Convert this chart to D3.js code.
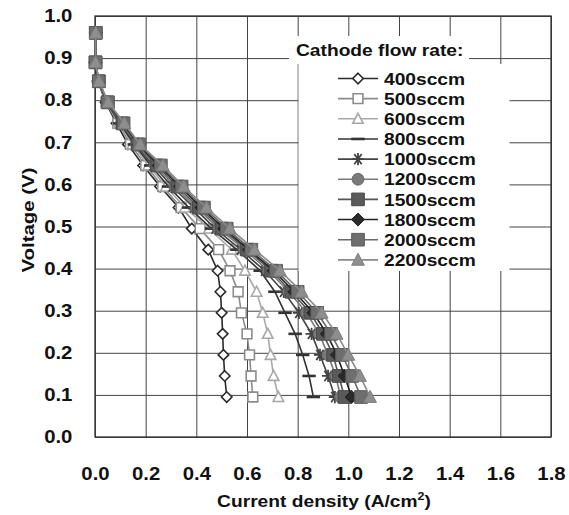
<!DOCTYPE html>
<html>
<head>
<meta charset="utf-8">
<script src="https://cdn.jsdelivr.net/npm/d3@7"></script>
<style>
  html, body { margin: 0; padding: 0; background: #fff; }
  svg { display: block; }
  text { font-family: "Liberation Sans", Arial, sans-serif; font-weight: bold; fill: #111; }
</style>
</head>
<body>
<svg id="chart" width="569" height="515"></svg>
<script>
// Cell voltage levels (V) shared by every flow-rate run
const voltage = [0.96, 0.89, 0.845, 0.795, 0.745, 0.695, 0.645, 0.595, 0.545, 0.495, 0.445, 0.395, 0.345, 0.295, 0.245, 0.195, 0.145, 0.095];

// Current density (A/cm2) at each voltage level, one array per cathode flow rate
const i400  = [0.003, 0.002, 0.012, 0.042, 0.085, 0.130, 0.190, 0.257, 0.330, 0.382, 0.447, 0.484, 0.495, 0.500, 0.504, 0.507, 0.512, 0.520];
const i500  = [0.003, 0.002, 0.012, 0.044, 0.090, 0.140, 0.200, 0.267, 0.340, 0.415, 0.488, 0.533, 0.565, 0.578, 0.600, 0.610, 0.616, 0.623];
const i600  = [0.003, 0.002, 0.013, 0.046, 0.095, 0.148, 0.210, 0.280, 0.355, 0.450, 0.540, 0.592, 0.638, 0.662, 0.682, 0.693, 0.705, 0.724];
const i800  = [0.003, 0.002, 0.013, 0.047, 0.098, 0.155, 0.220, 0.290, 0.370, 0.460, 0.560, 0.652, 0.710, 0.750, 0.790, 0.820, 0.845, 0.862];
const i1000 = [0.003, 0.002, 0.014, 0.048, 0.102, 0.160, 0.230, 0.305, 0.390, 0.475, 0.575, 0.670, 0.745, 0.805, 0.855, 0.888, 0.920, 0.947];
const i1200 = [0.003, 0.002, 0.014, 0.049, 0.105, 0.165, 0.238, 0.315, 0.400, 0.490, 0.590, 0.685, 0.765, 0.835, 0.885, 0.920, 0.950, 0.970];
const i1500 = [0.003, 0.002, 0.015, 0.050, 0.108, 0.168, 0.245, 0.325, 0.410, 0.500, 0.600, 0.695, 0.775, 0.850, 0.900, 0.940, 0.962, 0.985];
const i1800 = [0.003, 0.002, 0.015, 0.050, 0.110, 0.172, 0.252, 0.335, 0.420, 0.510, 0.607, 0.705, 0.787, 0.862, 0.915, 0.955, 0.985, 1.013];
const i2000 = [0.003, 0.002, 0.015, 0.051, 0.113, 0.175, 0.260, 0.342, 0.430, 0.520, 0.617, 0.715, 0.800, 0.877, 0.932, 0.975, 1.015, 1.050];
const i2200 = [0.003, 0.002, 0.016, 0.052, 0.116, 0.178, 0.268, 0.350, 0.440, 0.533, 0.630, 0.730, 0.816, 0.895, 0.954, 1.000, 1.046, 1.086];

const seriesLabels = ["400sccm", "500sccm", "600sccm", "800sccm", "1000sccm", "1200sccm", "1500sccm", "1800sccm", "2000sccm", "2200sccm"];
const seriesCurrents = [i400, i500, i600, i800, i1000, i1200, i1500, i1800, i2000, i2200];

const xTicks = [0, 0.2, 0.4, 0.6, 0.8, 1.0, 1.2, 1.4, 1.6, 1.8];
const yTicks = [0, 0.1, 0.2, 0.3, 0.4, 0.5, 0.6, 0.7, 0.8, 0.9, 1.0];

const legendTitle = "Cathode flow rate:";
const xTitle = "Current density (A/cm";
const yTitle = "Voltage (V)";

// ---- marker shapes ----
const shapes = {
  diamond: { draw(c, s) { const r = Math.sqrt(s) / 2; c.moveTo(0, -r); c.lineTo(r, 0); c.lineTo(0, r); c.lineTo(-r, 0); c.closePath(); } },
  square:  { draw(c, s) { const r = Math.sqrt(s) / 2; c.rect(-r, -r, 2 * r, 2 * r); } },
  triangle:{ draw(c, s) { const r = Math.sqrt(s) / 2; c.moveTo(0, -r * 1.05); c.lineTo(r, r * 0.85); c.lineTo(-r, r * 0.85); c.closePath(); } },
  bar:     { draw(c, s) { const r = Math.sqrt(s) / 2; c.moveTo(-r, 0); c.lineTo(r, 0); } },
  star:    { draw(c, s) { const r = Math.sqrt(s) / 2;
             c.moveTo(-r, 0); c.lineTo(r, 0);
             c.moveTo(-r * 0.6, -r * 0.85); c.lineTo(r * 0.6, r * 0.85);
             c.moveTo(r * 0.6, -r * 0.85); c.lineTo(-r * 0.6, r * 0.85);
             c.moveTo(0, -r); c.lineTo(0, r); } },
  circle:  { draw(c, s) { const r = Math.sqrt(s) / 2; c.moveTo(r, 0); c.arc(0, 0, r, 0, 2 * Math.PI); } }
};

// per-series appearance
const looks = [
  { shape: "diamond",  size: 110, line: "#2a2a2a", fill: "#fff",    stroke: "#2a2a2a", sw: 1.6 },
  { shape: "square",   size: 95,  line: "#8c8c8c", fill: "#fff",    stroke: "#8c8c8c", sw: 1.6 },
  { shape: "triangle", size: 110, line: "#a8a8a8", fill: "#fff",    stroke: "#a8a8a8", sw: 1.6 },
  { shape: "bar",      size: 180, line: "#333",    fill: "none",    stroke: "#333",    sw: 2.6 },
  { shape: "star",     size: 150, line: "#444",    fill: "none",    stroke: "#444",    sw: 1.8 },
  { shape: "circle",   size: 140, line: "#7a7a7a", fill: "#7a7a7a", stroke: "#6a6a6a", sw: 1 },
  { shape: "square",   size: 160, line: "#555",    fill: "#5a5a5a", stroke: "#4a4a4a", sw: 1 },
  { shape: "diamond",  size: 170, line: "#222",    fill: "#2a2a2a", stroke: "#222",    sw: 1 },
  { shape: "square",   size: 160, line: "#686868", fill: "#6e6e6e", stroke: "#5a5a5a", sw: 1 },
  { shape: "triangle", size: 160, line: "#8a8a8a", fill: "#8e8e8e", stroke: "#7e7e7e", sw: 1 }
];

const svg = d3.select("#chart");
const plotLeft = 95, plotRight = 551, plotTop = 16, plotBottom = 437;
const x = d3.scaleLinear().domain([0, 1.8]).range([plotLeft, plotRight]);
const y = d3.scaleLinear().domain([0, 1.0]).range([plotBottom, plotTop]);

const stretch = 1.13; // wide bold face
const gridColor = "#444";

// ---- axes with full-length gridlines ----
const gx = svg.append("g").attr("transform", `translate(0,${plotBottom})`)
  .call(d3.axisBottom(x).tickValues(xTicks).tickFormat(d3.format(".1f"))
        .tickSizeInner(-(plotBottom - plotTop)).tickSizeOuter(0).tickPadding(30));
gx.select(".domain").remove();
gx.selectAll(".tick line").attr("stroke", gridColor).attr("stroke-width", 1);
gx.selectAll(".tick text").attr("font-size", 18).attr("fill", "#111")
  .attr("font-family", "Liberation Sans, Arial, sans-serif").attr("font-weight", "bold")
  .attr("transform", `scale(${stretch},1)`);

const gy = svg.append("g").attr("transform", `translate(${plotLeft},0)`)
  .call(d3.axisLeft(y).tickValues(yTicks).tickFormat(d3.format(".1f"))
        .tickSizeInner(-(plotRight - plotLeft)).tickSizeOuter(0).tickPadding(20));
gy.select(".domain").remove();
gy.selectAll(".tick line").attr("stroke", gridColor).attr("stroke-width", 1);
gy.selectAll(".tick text").attr("font-size", 18).attr("fill", "#111")
  .attr("font-family", "Liberation Sans, Arial, sans-serif").attr("font-weight", "bold")
  .attr("transform", `scale(${stretch},1)`);

// plot frame
svg.append("rect").attr("x", plotLeft).attr("y", plotTop)
  .attr("width", plotRight - plotLeft).attr("height", plotBottom - plotTop)
  .attr("fill", "none").attr("stroke", "#333").attr("stroke-width", 1.3);

// ---- legend backgrounds (white boxes over the grid) ----
svg.append("rect").attr("x", 289).attr("y", 36).attr("width", 180).attr("height", 28).attr("fill", "#fff");
svg.append("rect").attr("x", 298.5).attr("y", 64).attr("width", 211).attr("height", 207).attr("fill", "#fff");

// ---- series ----
const line = d3.line().x(d => x(d[0])).y(d => y(d[1]));
const plot = svg.append("g");
seriesCurrents.forEach((cur, k) => {
  const look = looks[k];
  const pts = cur.map((c, i) => [c, voltage[i]]);
  const g = plot.append("g");
  g.append("path").datum(pts).attr("d", line)
    .attr("fill", "none").attr("stroke", look.line).attr("stroke-width", 1.6);
  g.selectAll("path.m").data(pts).join("path").attr("class", "m")
    .attr("transform", d => `translate(${x(d[0])},${y(d[1])})`)
    .attr("d", d3.symbol().type(shapes[look.shape]).size(look.size))
    .attr("fill", look.fill).attr("stroke", look.stroke).attr("stroke-width", look.sw);
});

// ---- legend ----
svg.append("text").attr("x", 296 / stretch).attr("y", 56.5)
  .attr("transform", `scale(${stretch},1)`).attr("font-size", 17).text(legendTitle);

const leg = svg.append("g");
seriesLabels.forEach((lab, k) => {
  const look = looks[k];
  const cy = 78.5 + k * 20.15;
  leg.append("line").attr("x1", 338).attr("x2", 378).attr("y1", cy).attr("y2", cy)
    .attr("stroke", look.line).attr("stroke-width", 1.6);
  leg.append("path").attr("transform", `translate(358,${cy})`)
    .attr("d", d3.symbol().type(shapes[look.shape]).size(look.size))
    .attr("fill", look.fill).attr("stroke", look.stroke).attr("stroke-width", look.sw);
  leg.append("text").attr("x", 384 / stretch).attr("y", cy).attr("dy", "0.36em")
    .attr("transform", `scale(${stretch},1)`).attr("font-size", 17).text(lab);
});

// ---- axis titles ----
const xt = svg.append("text").attr("text-anchor", "middle")
  .attr("x", 324 / stretch).attr("y", 507).attr("transform", `scale(${stretch},1)`)
  .attr("font-size", 17);
xt.append("tspan").text(xTitle);
xt.append("tspan").attr("font-size", 11).attr("dy", -7).text("2");
xt.append("tspan").attr("dy", 7).text(")");

svg.append("text").attr("text-anchor", "middle")
  .attr("transform", `translate(34,220) rotate(-90) scale(1.2,1)`)
  .attr("font-size", 17).text(yTitle);
</script>
</body>
</html>
